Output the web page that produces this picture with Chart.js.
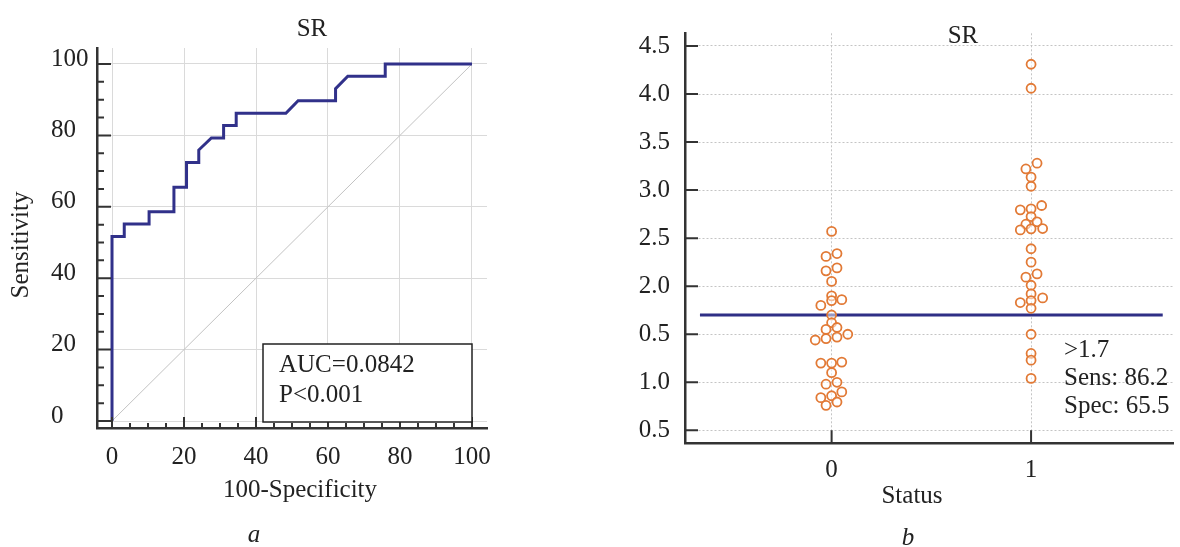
<!DOCTYPE html>
<html>
<head>
<meta charset="utf-8">
<script src="https://cdn.jsdelivr.net/npm/chart.js@4.4.1/dist/chart.umd.min.js"></script>
<style>
  body { margin: 0; background: #fff; }
  #wrap { position: relative; width: 1180px; height: 547px; }
  canvas { position: absolute; top: 0; }
  #roc { left: 0; }
  #dots { left: 590px; }
</style>
</head>
<body>
<div id="wrap">
  <canvas id="roc" width="590" height="547"></canvas>
  <canvas id="dots" width="590" height="547"></canvas>
</div>
<script>
// panel a - ROC curve (100-Specificity vs Sensitivity)
const rocFpr  = [0, 0, 3.4, 3.4, 10.3, 10.3, 17.2, 17.2, 20.7, 20.7, 24.1, 24.1, 27.6, 31.0, 31.0, 34.5, 34.5, 48.3, 51.7, 62.1, 62.1, 65.5, 75.9, 75.9, 100];
const rocSens = [0, 51.7, 51.7, 55.2, 55.2, 58.6, 58.6, 65.5, 65.5, 72.4, 72.4, 75.9, 79.3, 79.3, 82.8, 82.8, 86.2, 86.2, 89.7, 89.7, 93.1, 96.6, 96.6, 100, 100];
const rocTicks = [0, 20, 40, 60, 80, 100];
const aucText = ['AUC=0.0842', 'P<0.001'];

// panel b - SR by status
const status0 = [2.57, 2.31, 2.34, 2.16, 2.19, 2.05, 1.90, 1.85, 1.86, 1.80, 1.70, 1.62, 1.55, 1.57, 1.50,
                 1.44, 1.455, 1.47, 1.20, 1.20, 1.21, 1.10, 0.98, 1.00, 0.90, 0.84, 0.86, 0.76, 0.795];
const status0Jitter = [0, -0.028, 0.027, -0.028, 0.027, 0, 0, 0, 0.051, -0.054, 0, 0, -0.028, 0.027, 0.081,
                       -0.082, -0.028, 0.027, -0.054, 0, 0.051, 0, -0.028, 0.027, 0.051, -0.054, 0, -0.028, 0.027];
const status1 = [4.31, 4.06, 3.28, 3.22, 3.135, 3.04, 2.84, 2.805, 2.795, 2.725, 2.67, 2.645, 2.60, 2.597, 2.586,
                 2.39, 2.25, 2.128, 2.094, 2.01, 1.92, 1.878, 1.85, 1.83, 1.77, 1.50, 1.30, 1.23, 1.04];
const status1Jitter = [0, 0, 0.03, -0.026, 0, 0, 0.053, 0, -0.054, 0, 0.03, -0.026, 0.058, 0, -0.054,
                       0, 0, 0.03, -0.026, 0, 0, 0.058, 0, -0.054, 0, 0, 0, 0, 0];
const cutoff = 1.7;
const cutoffSpan = [-0.66, 1.66];
const srTicks = [0.5, 1.0, 1.5, 2.0, 2.5, 3.0, 3.5, 4.0, 4.5];
const srTickLabels = ['0.5', '1.0', '0.5', '2.0', '2.5', '3.0', '3.5', '4.0', '4.5'];
const statusTicks = [0, 1];
const cutoffText = ['>1.7', 'Sens: 86.2', 'Spec: 65.5'];

const SERIF = '"Liberation Serif", "Times New Roman", serif';
Chart.defaults.font.family = SERIF;
Chart.defaults.font.size = 25;
Chart.defaults.color = '#222';
Chart.defaults.animation = false;

// ticks drawn inward from the axis lines
function innerTicks(cfg) {
  return {
    id: 'innerTicks',
    afterDraw(chart) {
      const ctx = chart.ctx;
      const xs = chart.scales.x, ys = chart.scales.y;
      const area = chart.chartArea;
      ctx.save();
      ctx.strokeStyle = '#333';
      ctx.lineWidth = 2;
      ctx.beginPath();
      cfg.y.forEach(t => {
        t.values.forEach(v => {
          const py = ys.getPixelForValue(v);
          ctx.moveTo(area.left, py);
          ctx.lineTo(area.left + t.len, py);
        });
      });
      cfg.x.forEach(t => {
        t.values.forEach(v => {
          const px = xs.getPixelForValue(v);
          ctx.moveTo(px, area.bottom);
          ctx.lineTo(px, area.bottom - t.len);
        });
      });
      ctx.stroke();
      ctx.restore();
    }
  };
}

function textLayer(items, box) {
  return {
    id: 'textLayer',
    afterDraw(chart) {
      const ctx = chart.ctx;
      ctx.save();
      if (box) {
        ctx.fillStyle = '#fff';
        ctx.fillRect(box.x, box.y, box.w, box.h);
        ctx.strokeStyle = '#222';
        ctx.lineWidth = 1.5;
        ctx.strokeRect(box.x, box.y, box.w, box.h);
      }
      items.forEach(t => {
        ctx.save();
        ctx.font = t.font || ('25px ' + SERIF);
        ctx.fillStyle = '#222';
        ctx.textAlign = t.align || 'center';
        ctx.textBaseline = 'alphabetic';
        ctx.translate(t.x, t.y);
        if (t.rotate) ctx.rotate(t.rotate);
        ctx.fillText(t.text, 0, 0);
        ctx.restore();
      });
      ctx.restore();
    }
  };
}

const minor5 = [];
for (let v = 0; v <= 100; v += 5) if (v % 20) minor5.push(v);

new Chart(document.getElementById('roc'), {
  type: 'scatter',
  data: {
    datasets: [
      {
        data: rocFpr.map((x, i) => ({ x: x, y: rocSens[i] })),
        showLine: true,
        borderColor: '#31318a',
        borderWidth: 3,
        pointRadius: 0,
        tension: 0
      },
      {
        data: [{ x: 0, y: 0 }, { x: 100, y: 100 }],
        showLine: true,
        borderColor: '#c2c2c2',
        borderWidth: 1,
        pointRadius: 0
      }
    ]
  },
  options: {
    responsive: false,
    events: [],
    layout: { padding: { top: 48, right: 103, left: 51, bottom: 0 } },
    plugins: { legend: { display: false }, tooltip: { enabled: false } },
    scales: {
      x: {
        type: 'linear', min: -4.17, max: 104.17,
        afterBuildTicks: s => { s.ticks = rocTicks.map(v => ({ value: v })); },
        afterFit: s => { s.height = 119; },
        grid: { color: '#dadada', lineWidth: 1, drawTicks: false },
        border: { display: true, color: '#333', width: 2.5 },
        ticks: { padding: 14, maxRotation: 0, autoSkip: false, callback: v => String(v) }
      },
      y: {
        type: 'linear', min: -1.96, max: 104.48,
        afterBuildTicks: s => { s.ticks = rocTicks.map(v => ({ value: v })); },
        afterFit: s => { s.width = 46; },
        grid: { color: '#dadada', lineWidth: 1, drawTicks: false },
        border: { display: true, color: '#333', width: 2.5 },
        ticks: { crossAlign: 'far', padding: 4, labelOffset: -5, autoSkip: false, callback: v => String(v) }
      }
    }
  },
  plugins: [
    innerTicks({
      x: [{ values: rocTicks, len: 11 }, { values: minor5, len: 5 }],
      y: [{ values: rocTicks, len: 14 }, { values: minor5, len: 7 }]
    }),
    textLayer([
      { text: 'SR', x: 312, y: 36 },
      { text: 'Sensitivity', x: 28, y: 245, rotate: -Math.PI / 2 },
      { text: '100-Specificity', x: 300, y: 497 },
      { text: aucText[0], x: 279, y: 372, align: 'left' },
      { text: aucText[1], x: 279, y: 402, align: 'left' },
      { text: 'a', x: 254, y: 542, font: 'italic 25px ' + SERIF }
    ], { x: 263, y: 344, w: 209, h: 78 })
  ]
});

const dotStyle = {
  pointRadius: 4.5,
  pointBorderWidth: 1.8,
  pointBorderColor: '#e27a36',
  pointBackgroundColor: 'rgba(255,255,255,0.5)'
};

new Chart(document.getElementById('dots'), {
  type: 'scatter',
  data: {
    datasets: [
      Object.assign({ data: status0.map((v, i) => ({ x: 0 + status0Jitter[i], y: v })) }, dotStyle),
      Object.assign({ data: status1.map((v, i) => ({ x: 1 + status1Jitter[i], y: v })) }, dotStyle),
      {
        data: cutoffSpan.map(x => ({ x: x, y: cutoff })),
        showLine: true,
        borderColor: '#2f2f86',
        borderWidth: 3,
        pointRadius: 0
      }
    ]
  },
  options: {
    responsive: false,
    events: [],
    layout: { padding: { top: 33.3, right: 0, left: 0, bottom: 0 } },
    plugins: { legend: { display: false }, tooltip: { enabled: false } },
    scales: {
      x: {
        type: 'linear', min: -0.735, max: 1.715,
        afterBuildTicks: s => { s.ticks = statusTicks.map(v => ({ value: v })); },
        afterFit: s => { s.height = 103.7; },
        grid: { color: '#c4c4c4', lineWidth: 1, drawTicks: false },
        border: { display: true, color: '#333', width: 2.5, dash: [2, 2] },
        ticks: { padding: 12, maxRotation: 0, autoSkip: false, callback: v => String(v) }
      },
      y: {
        type: 'linear', min: 0.365, max: 4.632,
        afterBuildTicks: s => { s.ticks = srTicks.map(v => ({ value: v })); },
        afterFit: s => { s.width = 95; },
        grid: { color: '#c4c4c4', lineWidth: 1, drawTicks: false },
        border: { display: true, color: '#333', width: 2.5, dash: [2, 2] },
        ticks: { padding: 15, autoSkip: false, callback: (v, i) => srTickLabels[i] }
      }
    }
  },
  plugins: [
    innerTicks({
      x: [{ values: statusTicks, len: 13 }],
      y: [{ values: srTicks, len: 13 }]
    }),
    textLayer([
      { text: 'SR', x: 373, y: 43 },
      { text: cutoffText[0], x: 474, y: 357, align: 'left' },
      { text: cutoffText[1], x: 474, y: 385, align: 'left' },
      { text: cutoffText[2], x: 474, y: 413, align: 'left' },
      { text: 'Status', x: 322, y: 503 },
      { text: 'b', x: 318, y: 545, font: 'italic 25px ' + SERIF }
    ])
  ]
});
</script>
</body>
</html>
